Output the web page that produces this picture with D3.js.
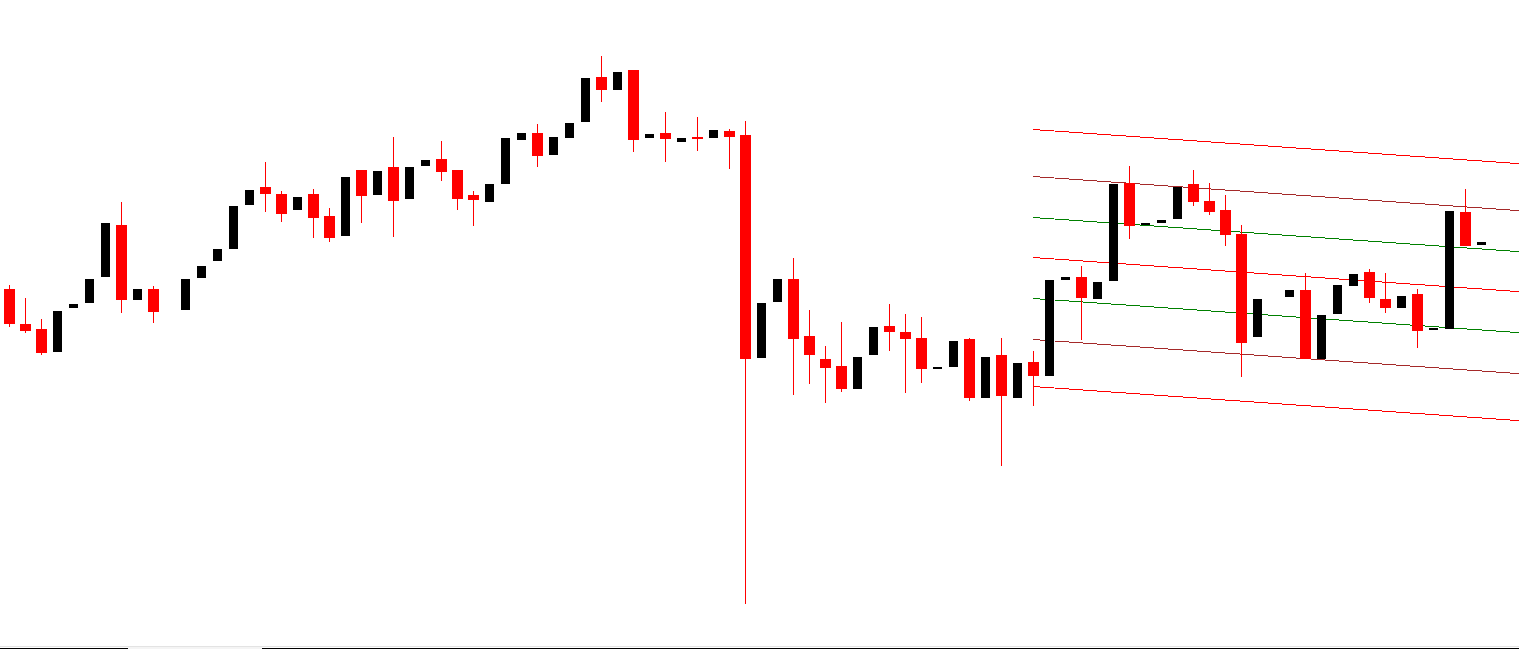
<!DOCTYPE html>
<html>
<head>
<meta charset="utf-8">
<script src="https://cdn.jsdelivr.net/npm/d3@7"></script>
<style>
  html, body { margin: 0; padding: 0; background: #fff; overflow: hidden; }
  svg { display: block; }
</style>
</head>
<body>
<script>
// ---- Data (price points; null = empty bar slot) ----
const open  = [351,316,311,288,332,337,363,415,340,351,null,330,362,379,391,435,453,446,430,446,424,404,470,445,473,441,474,481,470,445,438,456,500,507,485,502,518,563,550,570,502,507,498,503,502,509,505,282,338,361,304,281,274,251,285,314,308,302,271,273,301,242,285,242,278,264,360,363,341,359,457,415,417,421,456,439,430,406,303,null,343,350,281,326,354,368,341,332,346,310,311,428,395];
const high  = [355,342,321,329,336,361,417,438,351,354,null,361,374,391,434,450,478,449,443,451,432,463,470,469,503,473,480,499,470,449,456,502,507,516,503,517,562,584,568,570,506,528,502,523,510,511,519,337,361,382,330,294,318,283,313,336,326,323,273,299,302,283,302,277,289,360,363,374,358,456,474,417,420,453,470,457,445,415,341,null,350,367,325,355,366,371,367,344,351,312,429,451,398];
const low   = [313,307,285,288,332,337,363,327,340,317,null,330,362,379,391,435,428,418,430,402,398,404,417,445,403,441,474,459,430,414,438,456,500,473,485,502,518,538,550,488,502,478,498,489,502,471,36,282,338,245,256,237,248,251,285,289,247,257,271,273,239,242,174,242,234,264,360,300,341,359,401,415,417,421,434,425,394,263,303,null,343,281,281,326,354,337,327,332,292,310,311,394,395];
const close = [316,309,287,329,336,361,417,340,351,328,null,361,374,391,434,450,446,426,443,422,402,463,444,469,439,473,480,468,441,440,456,502,507,484,503,517,562,550,568,500,506,501,502,501,510,503,281,337,361,301,285,272,251,283,313,308,301,271,273,299,242,283,244,277,264,360,363,342,358,456,414,417,420,453,438,428,405,297,341,null,350,281,325,355,366,342,332,344,309,312,429,394,398];

// Regression channel: starts at bar slot 64, midline value and slope per slot, band offsets
const channelStartSlot = 64;
const channelMidStart = 382.5;
const channelSlope = -1.125;
const channelOffsets = [128, 81, 40, 0, -41, -82, -129];

// ---- Layout ----
const W = 1519, H = 649;
const lineColors = ["#ff0000", "#a52a2a", "#008000", "#ff0000", "#008000", "#a52a2a", "#ff0000"];

const svg = d3.select("body").append("svg")
  .attr("width", W).attr("height", H)
  .style("background", "#fff");

const nSlots = open.length;
const x = d3.scaleLinear().domain([0, nSlots - 1]).range([9.5, 1481.5]);
const y = d3.scaleLinear().domain([0, 640]).range([640, 0]);

const bars = d3.range(nSlots)
  .filter(i => open[i] !== null)
  .map(i => ({ i, o: open[i], h: high[i], l: low[i], c: close[i], bear: close[i] < open[i] }));

// channel lines
const endSlot = x.invert(W);
const g = svg.append("g").attr("shape-rendering", "crispEdges");
g.selectAll("line.ch").data(channelOffsets).join("line")
  .attr("class", "ch")
  .attr("x1", x(channelStartSlot) - 0.5)
  .attr("x2", x(endSlot))
  .attr("y1", d => y(channelMidStart + d))
  .attr("y2", d => y(channelMidStart + d + channelSlope * (endSlot - channelStartSlot)))
  .attr("stroke", (d, k) => lineColors[k])
  .attr("stroke-width", 1);

// wicks (only bearish bars show wicks)
const cg = svg.append("g").attr("shape-rendering", "crispEdges");
cg.selectAll("rect.wick").data(bars.filter(d => d.bear)).join("rect")
  .attr("class", "wick")
  .attr("x", d => x(d.i) - 0.5)
  .attr("width", 1)
  .attr("y", d => y(d.h))
  .attr("height", d => y(d.l) - y(d.h))
  .attr("fill", "#ff0000");

// bodies
cg.selectAll("rect.body").data(bars).join("rect")
  .attr("class", "body")
  .attr("x", d => x(d.i) - (d.bear ? 5.5 : 4.5))
  .attr("width", d => d.bear ? 11 : 9)
  .attr("y", d => y(Math.max(d.o, d.c)))
  .attr("height", d => Math.max(1, y(Math.min(d.o, d.c)) - y(Math.max(d.o, d.c))))
  .attr("fill", d => d.bear ? "#ff0000" : "#000000");

// bottom tab strip
const bg = svg.append("g").attr("shape-rendering", "crispEdges");
bg.append("rect").attr("x", 0).attr("y", 646).attr("width", W).attr("height", 1).attr("fill", "#e3e3e3");
bg.append("rect").attr("x", 0).attr("y", 648).attr("width", 128).attr("height", 1).attr("fill", "#000");
bg.append("rect").attr("x", 128).attr("y", 647).attr("width", 134).attr("height", 2).attr("fill", "#f4f4f4");
bg.append("rect").attr("x", 262).attr("y", 648).attr("width", W - 262).attr("height", 1).attr("fill", "#000");
</script>
</body>
</html>
